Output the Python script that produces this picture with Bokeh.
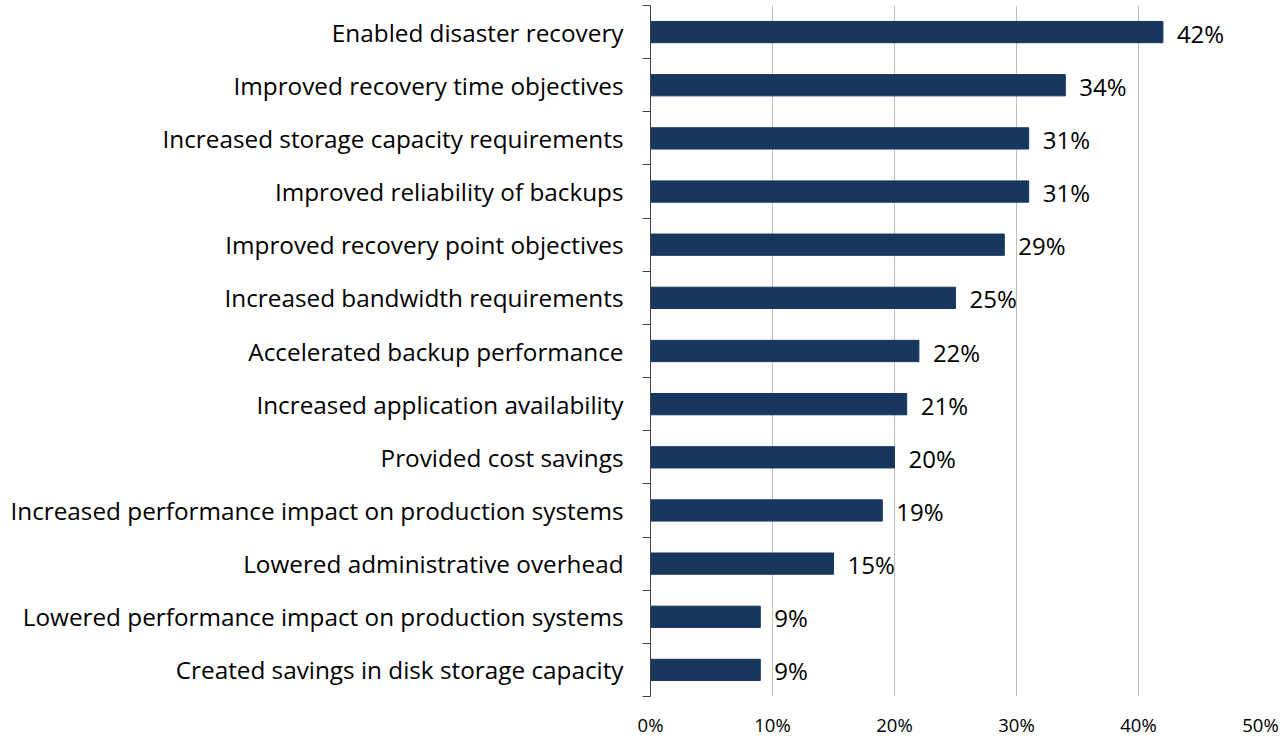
from bokeh.plotting import figure
from bokeh.models import ColumnDataSource, Range1d, FixedTicker, NumeralTickFormatter
from bokeh.core.properties import value
from bokeh.embed import file_html
from bokeh.resources import INLINE

categories = [
    "Enabled disaster recovery",
    "Improved recovery time objectives",
    "Increased storage capacity requirements",
    "Improved reliability of backups",
    "Improved recovery point objectives",
    "Increased bandwidth requirements",
    "Accelerated backup performance",
    "Increased application availability",
    "Provided cost savings",
    "Increased performance impact on production systems",
    "Lowered administrative overhead",
    "Lowered performance impact on production systems",
    "Created savings in disk storage capacity",
]
values = [42, 34, 31, 31, 29, 25, 22, 21, 20, 19, 15, 9, 9]
x_ticks = [0, 10, 20, 30, 40, 50]

n = len(categories)
ypos = [n - 1 - i for i in range(n)]
src = ColumnDataSource(dict(
    y=ypos,
    v=[x / 100 for x in values],
    lbl=[f"{x}%" for x in values],
))

FONT = "Open Sans"

p = figure(width=1286, height=739, output_backend="svg", toolbar_location=None,
           x_range=Range1d(0, 0.5), y_range=Range1d(-0.5, n - 0.5),
           min_border_left=650, min_border_right=26, min_border_top=5, min_border_bottom=42)
p.outline_line_color = None
p.background_fill_color = "white"

p.hbar(y="y", right="v", left=0, height=0.4, source=src, fill_color="#17375E", line_color="#17375E")
p.text(x="v", y="y", text="lbl", source=src, x_offset=14, y_offset=1, text_align="left",
       text_baseline="middle", text_font=value(FONT), text_font_size="24px", text_color="black")

# x axis
p.xaxis.ticker = FixedTicker(ticks=[t / 100 for t in x_ticks])
p.xaxis.formatter = NumeralTickFormatter(format="0%")
p.xaxis.axis_line_color = None
p.xaxis.major_tick_line_color = None
p.xaxis.minor_tick_line_color = None
p.xaxis.major_label_text_font = FONT
p.xaxis.major_label_text_font_size = "18.5px"
p.xaxis.major_label_text_color = "black"
p.xaxis.major_label_standoff = 9

# y axis
p.yaxis.ticker = FixedTicker(ticks=ypos, minor_ticks=[k - 0.5 for k in range(n + 1)])
p.yaxis.major_label_overrides = {yv: c for yv, c in zip(ypos, categories)}
p.yaxis.axis_line_color = "#404040"
p.yaxis.major_tick_line_color = None
p.yaxis.minor_tick_line_color = "#404040"
p.yaxis.minor_tick_out = 8
p.yaxis.minor_tick_in = 0
p.yaxis.major_label_text_font = FONT
p.yaxis.major_label_text_font_size = "24.3px"
p.yaxis.major_label_text_color = "black"
p.yaxis.major_label_standoff = 19

p.xgrid.ticker = FixedTicker(ticks=[t / 100 for t in x_ticks])
p.xgrid.grid_line_color = "#BEBEBE"
p.ygrid.grid_line_color = None

open("out.html", "w").write(file_html(p, INLINE))
